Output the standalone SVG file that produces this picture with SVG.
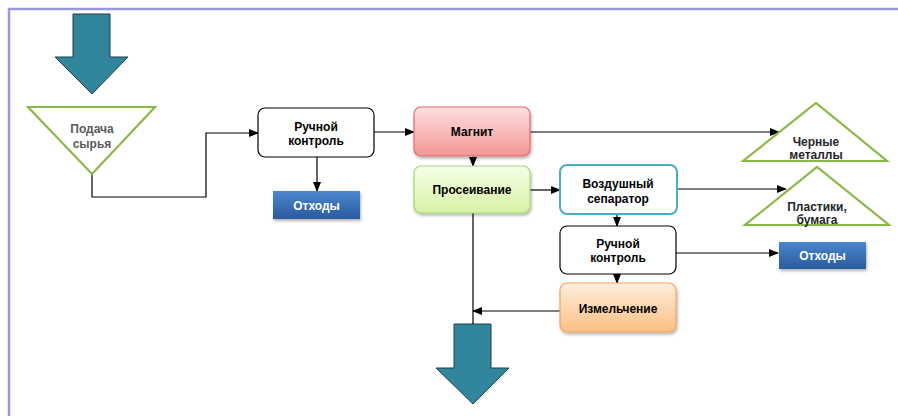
<svg xmlns="http://www.w3.org/2000/svg" width="898" height="416" viewBox="0 0 898 416">
<defs>
<style>
.t{font-family:"Liberation Sans",Arial,sans-serif;font-weight:bold;font-size:12px;text-anchor:middle}
.conn{fill:none;stroke:#000;stroke-width:1.2}
.tri{fill:#fff;stroke:#8bb84a;stroke-width:2.2}
.big{fill:#31859c;stroke:#1e3f48;stroke-width:1}
.box{fill:#fff;stroke:#000;stroke-width:1.2}
</style>
<marker id="ah" markerWidth="10" markerHeight="8" refX="9" refY="4" orient="auto" markerUnits="userSpaceOnUse">
<path d="M0,0 L10,4 L0,8 Z" fill="#000"/>
</marker>
<linearGradient id="gRed" x1="0" y1="0" x2="0" y2="1"><stop offset="0" stop-color="#ffe0e0"/><stop offset="1" stop-color="#f39595"/></linearGradient>
<linearGradient id="gGreen" x1="0" y1="0" x2="0" y2="1"><stop offset="0" stop-color="#f6ffe8"/><stop offset="1" stop-color="#d5f2a3"/></linearGradient>
<linearGradient id="gOrange" x1="0" y1="0" x2="0" y2="1"><stop offset="0" stop-color="#ffeedd"/><stop offset="1" stop-color="#fcbf82"/></linearGradient>
<linearGradient id="gBlue" x1="0" y1="0" x2="0" y2="1"><stop offset="0" stop-color="#4a86cf"/><stop offset="1" stop-color="#2b5a9c"/></linearGradient>
<filter id="sh" x="-10%" y="-10%" width="130%" height="140%"><feDropShadow dx="1" dy="2" stdDeviation="1.5" flood-color="#000" flood-opacity="0.3"/></filter>
</defs>
<rect width="898" height="416" fill="#fff"/>
<path d="M9,416 V9 H898" fill="none" stroke="#9b98d6" stroke-width="2.5"/>

<g id="arrow-in"><path class="big" d="M73,14 H110 V57 H128 L92,94 L55,57 H73 Z"/></g>
<g id="arrow-out"><path class="big" d="M454,324 H491 V368 H509 L473,404 L436,368 H454 Z"/></g>

<g id="connectors">
<path class="conn" d="M92,174 V197 H206 V133 H258" marker-end="url(#ah)"/>
<path class="conn" d="M317,157 V191" marker-end="url(#ah)"/>
<path class="conn" d="M374,132 H414" marker-end="url(#ah)"/>
<path class="conn" d="M473,156 V166" marker-end="url(#ah)"/>
<path class="conn" d="M530,132 H779" marker-end="url(#ah)"/>
<path class="conn" d="M530,190 H560" marker-end="url(#ah)"/>
<path class="conn" d="M677,189 H786" marker-end="url(#ah)"/>
<path class="conn" d="M617,214 V226" marker-end="url(#ah)"/>
<path class="conn" d="M676,253 H778" marker-end="url(#ah)"/>
<path class="conn" d="M617,274 V283" marker-end="url(#ah)"/>
<path class="conn" d="M560,311 H473" marker-end="url(#ah)"/>
<path class="conn" d="M473,213 V324"/>
</g>

<g id="podacha">
<path class="tri" d="M28,107 H155 L92,174 Z"/>
<text class="t" x="92" y="133" fill="#5a5a5a">Подача</text>
<text class="t" x="92" y="148" fill="#5a5a5a">сырья</text>
</g>

<g id="ruchnoy1">
<rect class="box" x="258" y="108" width="116" height="49" rx="7"/>
<text class="t" x="316" y="131">Ручной</text>
<text class="t" x="316" y="145">контроль</text>
</g>

<g id="othody1">
<rect x="273" y="191" width="87" height="28" fill="url(#gBlue)" filter="url(#sh)"/>
<text class="t" x="316.5" y="209.5" fill="#fff">Отходы</text>
</g>

<g id="magnit">
<rect x="414" y="107" width="116" height="49" rx="7" fill="url(#gRed)" stroke="#df6a6a" stroke-width="1.2" filter="url(#sh)"/>
<text class="t" x="472" y="136">Магнит</text>
</g>

<g id="proseivanie">
<rect x="414" y="166" width="116" height="47" rx="7" fill="url(#gGreen)" stroke="#a9d477" stroke-width="1.2" filter="url(#sh)"/>
<text class="t" x="472" y="194">Просеивание</text>
</g>

<g id="chernye">
<path class="tri" d="M743,161 H887 L816,103 Z"/>
<text class="t" x="816" y="146" fill="#262626">Черные</text>
<text class="t" x="816" y="159" fill="#262626">металлы</text>
</g>

<g id="vozdushny">
<rect x="560" y="165" width="117" height="49" rx="7" fill="#fff" stroke="#4bacc6" stroke-width="2"/>
<text class="t" x="618" y="188">Воздушный</text>
<text class="t" x="618" y="203">сепаратор</text>
</g>

<g id="plastiki">
<path class="tri" d="M745,225 H889 L817,167 Z"/>
<text class="t" x="817" y="211" fill="#262626">Пластики,</text>
<text class="t" x="817" y="224" fill="#262626">бумага</text>
</g>

<g id="ruchnoy2">
<rect class="box" x="560" y="226" width="116" height="48" rx="7"/>
<text class="t" x="618" y="248">Ручной</text>
<text class="t" x="618" y="262">контроль</text>
</g>

<g id="othody2">
<rect x="779" y="242" width="87" height="27" fill="url(#gBlue)" filter="url(#sh)"/>
<text class="t" x="822.5" y="260" fill="#fff">Отходы</text>
</g>

<g id="izmelchenie">
<rect x="560" y="283" width="116" height="49" rx="7" fill="url(#gOrange)" stroke="#f2a55f" stroke-width="1.2" filter="url(#sh)"/>
<text class="t" x="618" y="313">Измельчение</text>
</g>
</svg>
